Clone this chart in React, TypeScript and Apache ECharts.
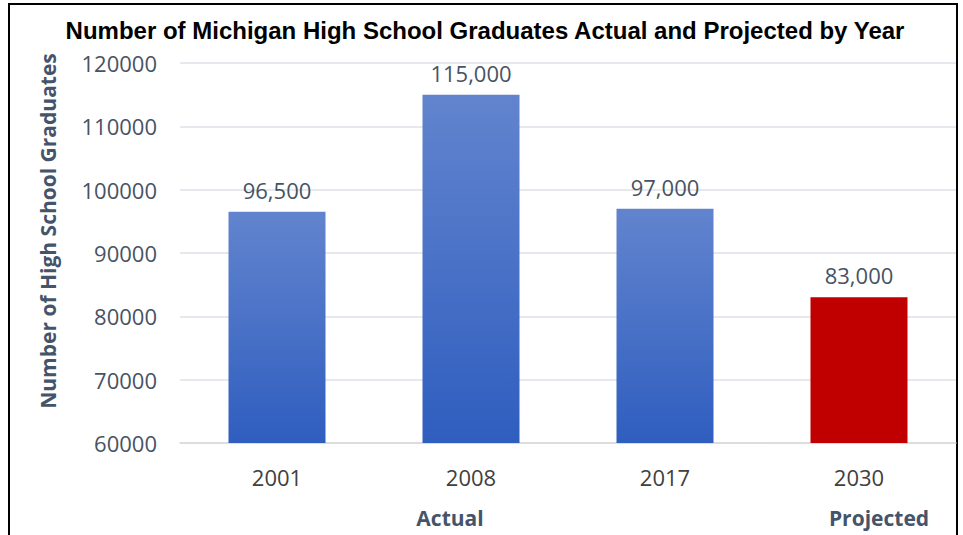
import React, { useEffect, useRef } from "react";
import * as echarts from "echarts";

const years = ["2001", "2008", "2017", "2030"];
const graduates = [96500, 115000, 97000, 83000];
const projectedFlags = [false, false, false, true];
const groupLabels = ["Actual", "Projected"];
const titleText = "Number of Michigan High School Graduates Actual and Projected by Year";
const yAxisTitle = "Number of High School Graduates";

const fmt = (v: number) => String(v).replace(/\B(?=(\d{3})+(?!\d))/g, ",");

export default function App() {
  const ref = useRef<HTMLDivElement>(null);
  useEffect(() => {
    if (!ref.current) return;
    const chart = echarts.init(ref.current, null, { renderer: "svg" });
    const blue = new echarts.graphic.LinearGradient(0, 0, 0, 1, [
      { offset: 0, color: "#6284ce" },
      { offset: 1, color: "#2f5ebf" },
    ]);
    chart.setOption({
      animation: false,
      backgroundColor: "#ffffff",
      grid: { left: 180, right: 7, top: 63, bottom: 92, containLabel: false },
      xAxis: {
        type: "category",
        data: years,
        axisLine: { show: true, lineStyle: { color: "#d9d9d9", width: 1.5 } },
        axisTick: { show: false },
        axisLabel: {
          margin: 23,
          fontSize: 22,
          fontFamily: "Open Sans",
          color: "#404040",
        },
      },
      yAxis: {
        type: "value",
        min: 60000,
        max: 120000,
        interval: 10000,
        axisLine: { show: false },
        axisTick: { show: false },
        axisLabel: {
          margin: 23,
          fontSize: 22,
          fontFamily: "Open Sans",
          color: "#475363",
          formatter: (v: number) => String(v),
        },
        splitLine: { show: true, lineStyle: { color: "#dde0e6", width: 1.5 } },
      },
      series: [
        {
          type: "bar",
          barWidth: "50%",
          data: graduates.map((v, i) => ({
            value: v,
            itemStyle: { color: projectedFlags[i] ? "#c00000" : blue },
          })),
          label: {
            show: true,
            position: "top",
            distance: 11,
            fontSize: 22,
            fontFamily: "Open Sans",
            color: "#475363",
            formatter: (p: any) => fmt(p.value),
          },
        },
      ],
      graphic: [
        {
          type: "rect",
          shape: { x: 9, y: 4, width: 948, height: 545 },
          style: { fill: "none", stroke: "#000000", lineWidth: 2 },
          silent: true,
        },
        {
          type: "text",
          x: 485,
          y: 30,
          style: {
            text: titleText,
            fontSize: 24,
            fontWeight: "bold",
            fontFamily: "Liberation Sans",
            fill: "#000000",
            textAlign: "center",
            textVerticalAlign: "middle",
          },
        },
        {
          type: "text",
          x: 48,
          y: 231,
          rotation: Math.PI / 2,
          style: {
            text: yAxisTitle,
            fontSize: 21,
            fontWeight: "bold",
            fontFamily: "Open Sans",
            fill: "#44546a",
            textAlign: "center",
            textVerticalAlign: "middle",
          },
        },
        {
          type: "text",
          x: 450,
          y: 518,
          style: {
            text: groupLabels[0],
            fontSize: 21,
            fontWeight: "bold",
            fontFamily: "Open Sans",
            fill: "#44546a",
            textAlign: "center",
            textVerticalAlign: "middle",
          },
        },
        {
          type: "text",
          x: 879,
          y: 518,
          style: {
            text: groupLabels[1],
            fontSize: 21,
            fontWeight: "bold",
            fontFamily: "Open Sans",
            fill: "#44546a",
            textAlign: "center",
            textVerticalAlign: "middle",
          },
        },
      ],
    });
    return () => chart.dispose();
  }, []);
  return <div ref={ref} style={{ width: 963, height: 535, position: "absolute", left: 0, top: 0 }} />;
}
